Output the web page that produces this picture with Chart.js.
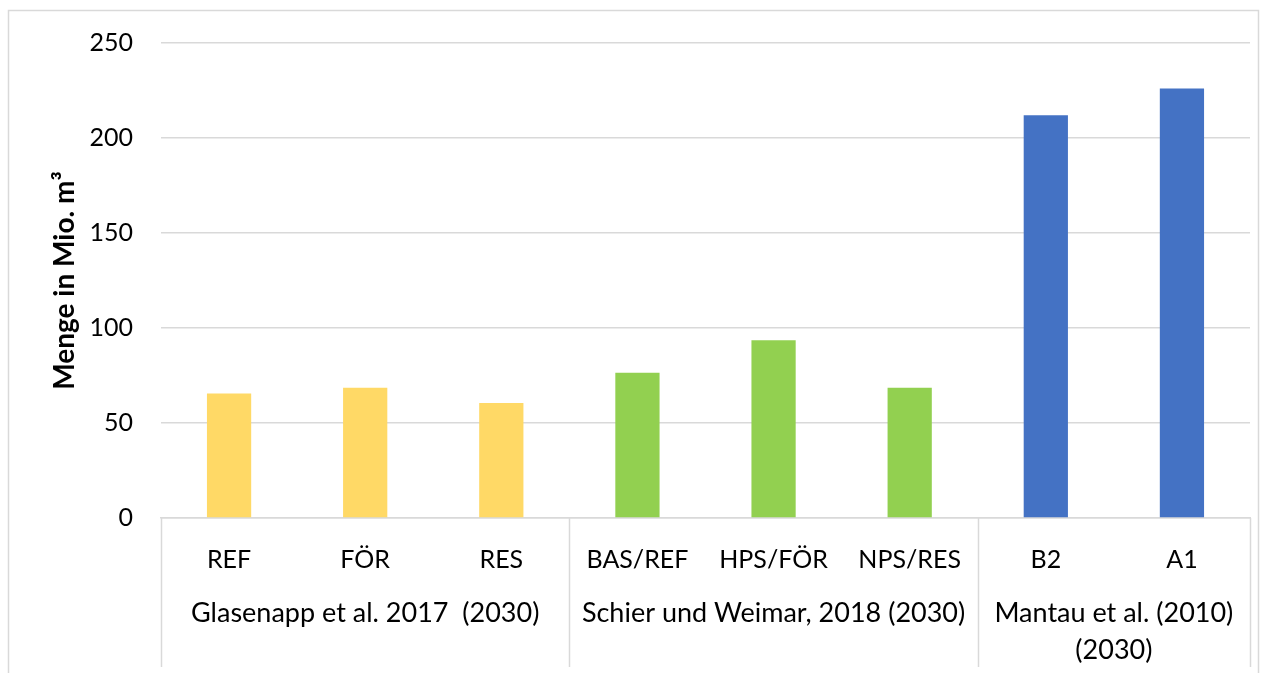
<!DOCTYPE html>
<html>
<head>
<meta charset="utf-8">
<script src="https://cdn.jsdelivr.net/npm/chart.js@4"></script>
<style>
  html, body { margin: 0; padding: 0; background: #fff; }
  #wrap { position: relative; width: 1266px; height: 673px; }
</style>
</head>
<body>
<div id="wrap"><canvas id="bar-chart" width="1266" height="673"></canvas></div>
<script>
// Szenarien (untere Beschriftung) und Werte in Mio. m³
var szenarien = ['REF', 'FÖR', 'RES', 'BAS/REF', 'HPS/FÖR', 'NPS/RES', 'B2', 'A1'];
var mengen = [65.5, 68.5, 60.5, 76.5, 93.5, 68.5, 212, 226];

// Studien (zweite Beschriftungsebene), Anzahl Szenarien je Studie
var studien = [['Glasenapp et al. 2017  (2030)'], ['Schier und Weimar, 2018 (2030)'], ['Mantau et al. (2010)', '(2030)']];
var studienAnzahl = [3, 3, 2];
var studienFarben = ['#FFD966', '#92D050', '#4472C4'];

var yTicks = [0, 50, 100, 150, 200, 250];

var FONT = 'Lato, "Open Sans", sans-serif';
var GRID = '#d9d9d9';

var barColors = [];
studienAnzahl.forEach(function(n, i){
    for (var k = 0; k < n; k++) barColors.push(studienFarben[i]);
});

var gruppenPlugin = {
    id: 'gruppen',
    beforeDraw: function(chart){
        var ctx = chart.ctx;
        ctx.save();
        ctx.strokeStyle = GRID;
        ctx.lineWidth = 1.5;
        ctx.strokeRect(8.5, 10.5, 1250, 700);
        ctx.restore();
    },
    afterDraw: function(chart){
        var ctx = chart.ctx;
        var xs = chart.scales.x;
        var area = chart.chartArea;
        var step = xs.getPixelForValue(1) - xs.getPixelForValue(0);
        var bottom = 667;

        ctx.save();
        ctx.strokeStyle = GRID;
        ctx.lineWidth = 1.5;
        ctx.font = '27px ' + FONT;
        ctx.fillStyle = '#000';
        ctx.textAlign = 'center';
        ctx.textBaseline = 'middle';

        var start = 0;
        for (var g = 0; g < studien.length; g++){
            var x0 = xs.getPixelForValue(start) - step / 2;
            var x1 = xs.getPixelForValue(start + studienAnzahl[g] - 1) + step / 2;
            ctx.beginPath();
            ctx.moveTo(Math.round(x0) + 0.5, area.bottom);
            ctx.lineTo(Math.round(x0) + 0.5, bottom);
            ctx.stroke();
            if (g === studien.length - 1){
                ctx.beginPath();
                ctx.moveTo(Math.round(x1) + 0.5, area.bottom);
                ctx.lineTo(Math.round(x1) + 0.5, bottom);
                ctx.stroke();
            }
            var lines = studien[g];
            for (var l = 0; l < lines.length; l++){
                ctx.fillText(lines[l], (x0 + x1) / 2, 613 + l * 37);
            }
            start += studienAnzahl[g];
        }
        ctx.restore();
    }
};

var ctx = document.getElementById('bar-chart').getContext('2d');
var chart = new Chart(ctx, {
    type: 'bar',
    data: {
        labels: szenarien,
        datasets: [{
            data: mengen,
            backgroundColor: barColors,
            borderWidth: 0,
            barPercentage: 0.325,
            categoryPercentage: 1
        }]
    },
    options: {
        responsive: false,
        animation: false,
        events: [],
        layout: { padding: { top: 42, right: 16, bottom: 0, left: 0 } },
        plugins: {
            legend: { display: false },
            tooltip: { enabled: false }
        },
        scales: {
            x: {
                grid: { display: false, drawTicks: false },
                border: { display: true, color: GRID, width: 1.5 },
                ticks: {
                    color: '#000',
                    font: { family: FONT, size: 25 },
                    padding: 27,
                    maxRotation: 0,
                    autoSkip: false
                },
                afterFit: function(scale){ scale.height = 155; }
            },
            y: {
                min: 0,
                max: 250,
                afterBuildTicks: function(scale){
                    scale.ticks = yTicks.map(function(v){ return { value: v }; });
                },
                grid: { color: GRID, lineWidth: 1.5, drawTicks: false },
                border: { display: false },
                ticks: {
                    color: '#000',
                    font: { family: FONT, size: 25 },
                    padding: 28
                },
                title: {
                    display: true,
                    text: 'Menge in Mio. m³',
                    color: '#000',
                    font: { family: FONT, size: 28, weight: 'bold' },
                    padding: { top: 48, bottom: 0 }
                },
                afterFit: function(scale){ scale.width = 161; }
            }
        }
    },
    plugins: [gruppenPlugin]
});
</script>
</body>
</html>
